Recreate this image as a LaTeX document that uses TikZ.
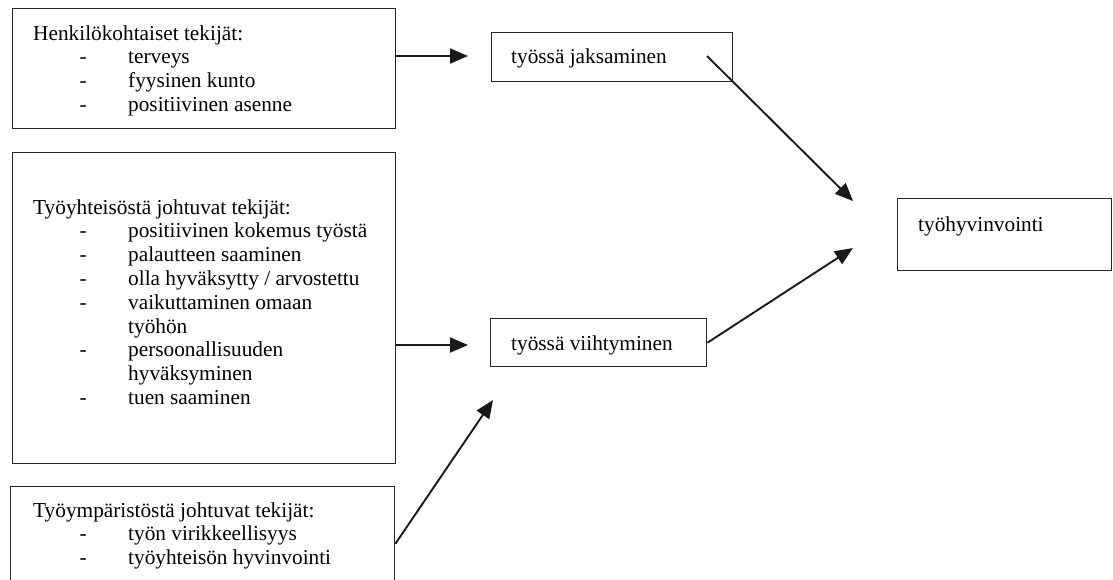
\documentclass[tikz,border=0pt]{standalone}
\usepackage{fontspec}
\setmainfont{Liberation Serif}
\usetikzlibrary{arrows.meta}
\newcommand{\itemline}[1]{\hspace*{50pt}\makebox[0pt]{-}\hspace*{45pt}#1}
\newcommand{\contline}[1]{\hspace*{95pt}#1}
\begin{document}
\begin{tikzpicture}[x=1pt,y=-1pt,
  box/.style={draw=black!85,line width=1.4pt,inner sep=0pt,anchor=north west},
  txt/.style={anchor=base west,inner sep=0pt,font=\fontsize{21.3}{23.8}\selectfont},
  arr/.style={draw=black!90,line width=1.9pt,-{Triangle[length=18pt,width=15pt]}}]
\useasboundingbox (0,0) rectangle (1113,579);
% boxes
\node[box,minimum width=383pt,minimum height=120pt] (b1) at (12,8) {};
\node[box,minimum width=383pt,minimum height=311pt] (b2) at (12,152) {};
\node[box,minimum width=384pt,minimum height=114pt] (b3) at (10,486) {};
\node[box,minimum width=241pt,minimum height=49pt] (bj) at (491,32) {};
\node[box,minimum width=216pt,minimum height=48pt] (bv) at (490,318) {};
\node[box,minimum width=214pt,minimum height=72pt] (bh) at (897,198) {};
% texts
\node[txt] (t1) at (33,40) {\begin{tabular}[t]{@{}l@{}}Henkilökohtaiset tekijät:\\
 \itemline{terveys}\\ \itemline{fyysinen kunto}\\ \itemline{positiivinen asenne}\end{tabular}};
\node[txt] (t2) at (33,214) {\begin{tabular}[t]{@{}l@{}}Työyhteisöstä johtuvat tekijät:\\
 \itemline{positiivinen kokemus työstä}\\ \itemline{palautteen saaminen}\\
 \itemline{olla hyväksytty / arvostettu}\\ \itemline{vaikuttaminen omaan}\\
 \contline{työhön}\\ \itemline{persoonallisuuden}\\ \contline{hyväksyminen}\\
 \itemline{tuen saaminen}\end{tabular}};
\node[txt] (t3) at (33,517) {\begin{tabular}[t]{@{}l@{}}Työympäristöstä johtuvat tekijät:\\
 \itemline{työn virikkeellisyys}\\ \itemline{työyhteisön hyvinvointi}\end{tabular}};
\node[txt] (tj) at (511,63) {työssä jaksaminen};
\node[txt] (tv) at (511,350) {työssä viihtyminen};
\node[txt] (th) at (918,231) {työhyvinvointi};
% connectors
\coordinate (p1) at (468,56);
\coordinate (p2) at (468,345);
\coordinate (s3) at (707,56);
\coordinate (p3) at (853,201);
\coordinate (p4) at (853,248);
\coordinate (p5) at (493,400);
\draw[arr] (b1.east |- p1) -- (p1);
\draw[arr] (b2.east |- p2) -- (p2);
\draw[arr] (s3) -- (p3);
\draw[arr] (bv.east) -- (p4);
\draw[arr] (b3.east) -- (p5);
\end{tikzpicture}
\end{document}
